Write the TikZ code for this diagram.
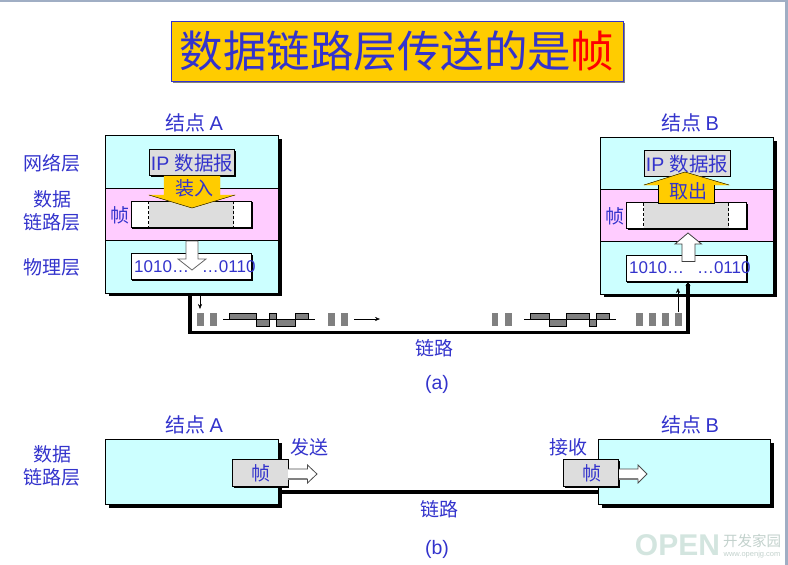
\documentclass[tikz,border=0pt]{standalone}
\usepackage{fontspec}
\setmainfont{Liberation Sans}
\newfontfamily\cjk{Noto Sans CJK SC}
\usetikzlibrary{calc,arrows.meta}
\tikzset {>=Stealth}
\definecolor{txtblue}{HTML}{3333CC}
\definecolor{nodecyan}{HTML}{CCFFFF}
\definecolor{layerpink}{HTML}{FFCCFF}
\definecolor{pduyellow}{HTML}{FFCC00}
\definecolor{pdugray}{HTML}{DDDDDD}
\definecolor{bitgray}{HTML}{808080}
\definecolor{marksoft}{HTML}{D3E5DF}
\definecolor{slideedge}{HTML}{A0AEC4}
\tikzset{
  lbl/.style={text=txtblue,inner sep=0pt,yshift=-0.7pt,font=\cjk\fontsize{19}{21}\selectfont},
  nodelbl/.style={text=txtblue,inner sep=0pt,yshift=-0.7pt,font=\cjk\fontsize{20}{22}\selectfont},
  bits/.style={text=txtblue,inner sep=0pt,font=\fontsize{17}{19}\selectfont},
  iplbl/.style={text=txtblue,inner sep=0pt,font=\fontsize{19.5}{21}\selectfont},
  pdu/.style={draw=black,fill=pdugray,semithick},
  whitebox/.style={draw=black,fill=white,semithick},
  drop/.style={fill=black},
  link/.style={line width=3.2pt,line cap=butt,line join=miter},
  tick/.style={fill=bitgray,draw=none},
  wave/.style={fill=bitgray,draw=black,thick},
  small/.style={-{Stealth[length=5pt,width=4pt]},thin},
  hollow/.style={draw=black!70,fill=white,thick}
}
\begin{document}
\begin{tikzpicture}[x=1pt,y=-1pt]
\useasboundingbox (0,0) rectangle (788,565);

% Slide edges
\fill[slideedge] (0,0) rectangle (788,2);
\fill[slideedge] (785,0) rectangle (788,565);

% Title
\fill[gray] (173,23) rectangle (625,83);
\node[draw=txtblue,fill=pduyellow,thick,minimum width=452pt,minimum height=60pt,inner sep=0pt,
  text=txtblue,font=\cjk\fontsize{43.5}{45}\selectfont] (title) at (397,51) {数据链路层传送的是\textcolor{red}{帧}};

% Layer names
\node[lbl] (net) at (52,163) {网络层};
\node[lbl] (dl1) at (52,199) {数据};
\node[lbl] (dl2) at (52,222) {链路层};
\node[lbl] (phy) at (52,267) {物理层};

% Node A, part (a)
\node[nodelbl] (nodeA) at (194,122) {结点 {\fontspec{Liberation Sans}A}};
\fill[drop] (108.5,138.5) rectangle (281.5,296);
\draw[fill=nodecyan,semithick] (105.5,135.5) rectangle (278.5,293);
\draw[fill=layerpink,semithick] (105.5,188) rectangle (278.5,240.5);
\node[lbl] (frameA) at (120,215) {帧};
\fill[drop] (132,202) rectangle (252.5,228.5);
\draw[whitebox] (131,201) rectangle (251,227);
\fill[pdugray] (148.5,201.5) rectangle (233.5,226.5);
\draw[densely dashed] (148.5,201) -- (148.5,227);
\draw[densely dashed] (233.5,201) -- (233.5,227);
\fill[drop] (150.5,150.5) rectangle (235.5,176.5);
\draw[pdu] (149.5,149.5) rectangle (234.5,175.5);
\node[iplbl] (ipA) at (192,163) {IP {\cjk 数据报}};
\draw[fill=pduyellow,draw=pduyellow] (164,176) -- (220,176) -- (220,195) -- (235,195) -- (192,208) -- (149,195) -- (164,195) -- cycle;
\draw[black] (149,195) -- (192,208) -- (235,195);
\node[lbl] (putin) at (194,188) {装入};
\fill[drop] (132,254.5) rectangle (252.5,281);
\draw[whitebox] (131,253.5) rectangle (251,279.5);
\node[bits,anchor=west] (bitsA) at (134,267) {1010…\hspace{13pt}…0110};
\draw[hollow,draw=black!60] (186,241) -- (198,241) -- (198,259) -- (206,259) -- (192,270) -- (178,259) -- (186,259) -- cycle;

% Node B, part (a)
\node[nodelbl] (nodeB) at (690,122) {结点 {\fontspec{Liberation Sans}B}};
\fill[drop] (603.5,140.5) rectangle (776.5,297);
\draw[fill=nodecyan,semithick] (600.5,137.5) rectangle (773.5,294);
\draw[fill=layerpink,semithick] (600.5,189) rectangle (773.5,241.5);
\node[lbl] (frameB) at (615,216) {帧};
\fill[drop] (627.5,203.5) rectangle (748,230);
\draw[whitebox] (626.5,202.5) rectangle (746.5,228.5);
\fill[pdugray] (643.5,203) rectangle (728.5,228);
\draw[densely dashed] (643.5,202.5) -- (643.5,228.5);
\draw[densely dashed] (728.5,202.5) -- (728.5,228.5);
\fill[drop] (645,151) rectangle (731,177);
\draw[pdu] (644,150) rectangle (730,176);
\node[iplbl] (ipB) at (687,164) {IP {\cjk 数据报}};
\draw[fill=pduyellow,draw=pduyellow] (658.5,203) -- (714,203) -- (714,185) -- (729,185) -- (685,172) -- (644,185) -- (658.5,185) -- cycle;
\draw[black] (644,185) -- (685,172) -- (729,185);
\draw[black] (658.5,185) -- (658.5,203) -- (714,203) -- (714,185);
\node[lbl] (takeout) at (688,191) {取出};
\fill[drop] (627,256) rectangle (747.5,282.5);
\draw[whitebox] (626.5,255) rectangle (746.5,281);
\node[bits,anchor=west] (bitsB) at (629,268) {1010…\hspace{13pt}…0110};
\draw[hollow,draw=black!75] (682,261.5) -- (695,261.5) -- (695,244) -- (701.5,244) -- (688,233) -- (675,244) -- (682,244) -- cycle;

% Link between the two nodes
\coordinate (linkA) at (190,294);
\coordinate (linkB) at (688,282);
\draw[link,-{Stealth[length=4pt,width=5pt]}] (linkA) -- (190,332.5) -- (688,332.5) -- (linkB);
\node[lbl] (linkLblA) at (434,348) {链路};
\node[iplbl] (capA) at (437,384) {(a)};
\draw[small] (200,294) -- (200,309);
\draw[small] (678,312) -- (678,288);
\draw[small] (354,319) -- (380,319);

% Bits on the wire
\foreach \x in {197,210,328,341,491.5,505,636,649,662,675}
  \fill[tick] (\x,312.5) rectangle +(6.5,13.5);
\draw (223,319) -- (315,319);
\draw (524,319) -- (616,319);
\draw[wave] (229.5,319) |- (256,313) -- (256,326) -- (269.5,326) -- (269.5,313) -- (276,313) -- (276,326) -- (295.5,326) -- (295.5,313) -- (308.5,313) -- (308.5,319) -- cycle;
\draw[wave] (530,319) |- (549.5,313) -- (549.5,326) -- (566.5,326) -- (566.5,313) -- (589,313) -- (589,326) -- (596.5,326) -- (596.5,313) -- (609,313) -- (609,319) -- cycle;

% Part (b)
\node[lbl] (dl3) at (52,454) {数据};
\node[lbl] (dl4) at (52,477) {链路层};
\node[nodelbl] (nodeA2) at (194,424) {结点 {\fontspec{Liberation Sans}A}};
\node[nodelbl] (nodeB2) at (690,424) {结点 {\fontspec{Liberation Sans}B}};
\fill[drop] (108.5,442.5) rectangle (281.5,507.5);
\draw[fill=nodecyan,semithick] (105.5,439.5) rectangle (278.5,504.5);
\fill[drop] (601.5,442.5) rectangle (773.5,507.5);
\draw[fill=nodecyan,semithick] (598.5,439.5) rectangle (770.5,504.5);
\draw[link] (278.5,492) -- (598.5,492);
\node[lbl] (linkLblB) at (439,509) {链路};
\node[iplbl] (capB) at (437,549) {(b)};
\node[lbl] (send) at (309,447) {发送};
\node[lbl] (recv) at (568,447) {接收};

\fill[drop] (233.5,460.5) rectangle (289,487.5);
\draw[pdu] (232.5,459.5) rectangle (288,486.5);
\node[lbl] (frameS) at (261,473) {帧};
\draw[hollow] (288,469) -- (307.5,469) -- (307.5,465) -- (317,474) -- (307.5,483) -- (307.5,479) -- (288,479);
\draw[gray,line width=2pt] (288,479) -- (307,479);
\fill[drop] (564.5,460.5) rectangle (620,487.5);
\draw[pdu] (563.5,459.5) rectangle (618.7,486.5);
\node[lbl] (frameR) at (592,473) {帧};
\draw[hollow] (619,469) -- (638,469) -- (638,465) -- (647,474) -- (638,483) -- (638,479) -- (619,479);
\draw[gray,line width=2pt] (619,479) -- (637.5,479);

% Site mark
\node[inner sep=0pt,text=marksoft,font=\bfseries\fontsize{30}{31}\selectfont] (markOpen) at (677.5,545) {OPEN};
\node[inner sep=0pt,text=marksoft!80!gray,font=\cjk\fontsize{14.5}{15}\selectfont] (markCn) at (752,540.5) {开发家园};
\node[inner sep=0pt,text=marksoft!80!gray,font=\fontsize{7.5}{8}\selectfont] (markUrl) at (752,554.5) {www.openjg.com};
\end{tikzpicture}
\end{document}
